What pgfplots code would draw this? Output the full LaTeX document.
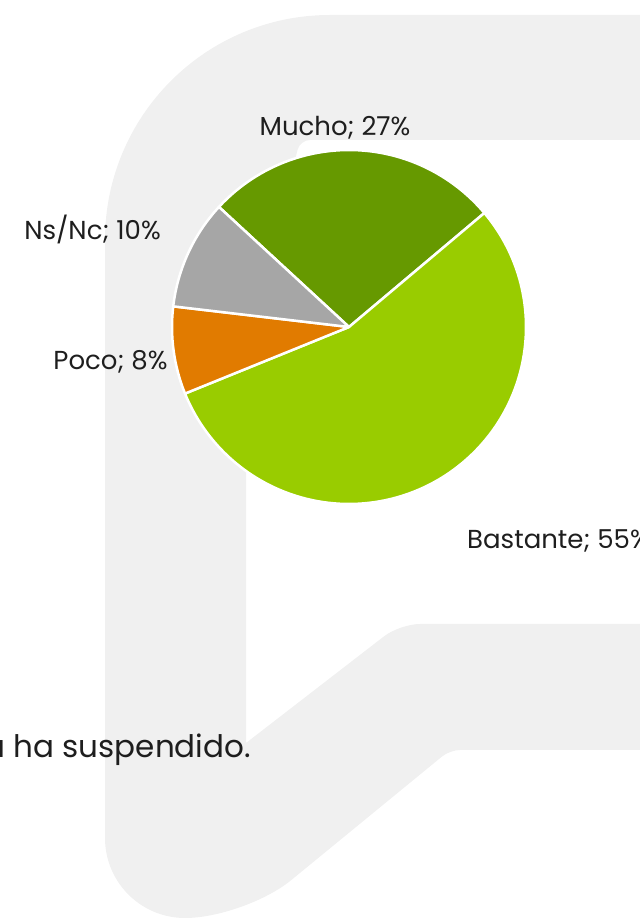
\documentclass[border=0pt]{standalone}
\usepackage{fontspec}
\setmainfont{Poppins}
\usepackage{pgfplots}
\pgfplotsset{compat=1.18}
\definecolor{wm}{RGB}{240,240,240}
\definecolor{cMucho}{RGB}{102,153,0}
\definecolor{cBast}{RGB}{153,204,0}
\definecolor{cPoco}{RGB}{225,123,0}
\definecolor{cNs}{RGB}{166,166,166}
\definecolor{txt}{RGB}{30,30,30}
% slice: start angle, end angle, colour
\newcommand\slice[3]{%
  \fill[#3, draw=white, line width=2.5pt, line join=round]
    (axis cs:0,0) -- (axis cs:{cos(#1)},{sin(#1)})
    arc[start angle=#1, end angle=#2, radius=177pt] -- cycle;}
\begin{document}
\begin{tikzpicture}
\useasboundingbox (0pt,0pt) rectangle (640pt,919pt);
\begin{scope}[x=1pt,y=1pt]
\clip (0,0) rectangle (640,919);
% watermark
\fill[wm] (700,904) [rounded corners=225pt] -- (105,904) [rounded corners=80pt] -- (105,1)
  [rounded corners=60pt] -- (245,1) [rounded corners=10pt] -- (450,169) [sharp corners] -- (700,169)
  -- (700,295) [rounded corners=20pt] -- (400,295) [sharp corners] -- (246,176)
  -- (246,560) [rounded corners=10pt] -- (300,779) [sharp corners] -- (700,779) -- cycle;
\end{scope}
\begin{axis}[at={(349pt,592pt)}, anchor=center, scale only axis,
  width=354pt, height=354pt, hide axis,
  xmin=-1, xmax=1, ymin=-1, ymax=1, clip=false]
% values: Mucho 27, Bastante 55, Poco 8, Ns/Nc 10 ; start 137.3 deg, clockwise, 3.6 deg per %
\slice{137.3}{40.1}{cMucho}
\slice{40.1}{-157.9}{cBast}
\slice{-157.9}{-186.7}{cPoco}
\slice{-186.7}{-222.7}{cNs}
\end{axis}
\begin{scope}[x=1pt,y=1pt,every node/.style={text=txt, font=\fontsize{26}{31}\selectfont, inner sep=0pt}]
\node[anchor=base] at (335,783) {Mucho; 27\%};
\node[anchor=base] at (92.5,679) {Ns/Nc; 10\%};
\node[anchor=base] at (110.5,549) {Poco; 8\%};
\node[anchor=base west] at (467,370) {Bastante; 55\%};
\node[anchor=base east, font=\fontsize{31}{37}\selectfont] at (251,161) {a ha suspendido.};
\end{scope}
\end{tikzpicture}
\end{document}
